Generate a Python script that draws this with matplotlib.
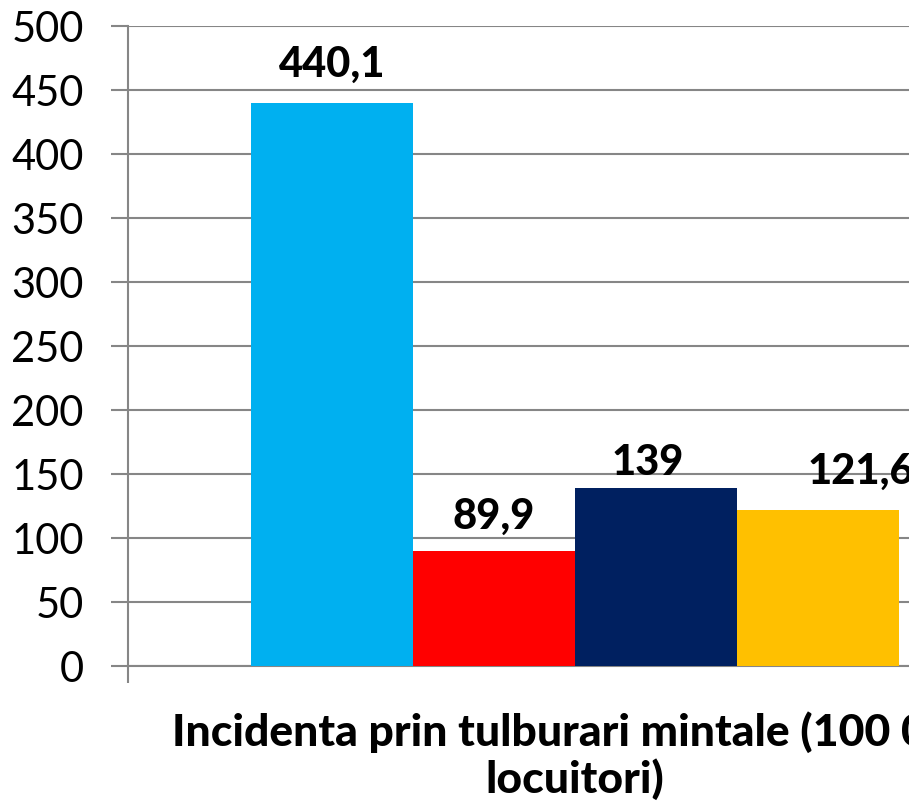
import matplotlib.pyplot as plt

# date
serii = ['Seria 1', 'Seria 2', 'Seria 3', 'Seria 4']
valori = [440.1, 89.9, 139, 121.6]
etichete = ['440,1', '89,9', '139', '121,6']
culori = ['#00B0F0', '#FF0000', '#002060', '#FFC000']
categorie = 'Incidenta prin tulburari mintale (100 000\nlocuitori)'
y_ticks = [0, 50, 100, 150, 200, 250, 300, 350, 400, 450, 500]
# deplasarea etichetelor (pixeli), ca in original
deplasari = [(0, 27), (0, 23), (-8, 14), (43, 28)]

plt.rcParams['font.family'] = ['Lato', 'DejaVu Sans']

fig = plt.figure(figsize=(9.09, 8.12), dpi=100)
# axa continua dincolo de marginea din dreapta (imaginea e taiata)
ax = fig.add_axes([128 / 909, 145 / 812, 894 / 909, 640 / 812])

w = 0.1814
for i, (v, c, e, d) in enumerate(zip(valori, culori, etichete, deplasari)):
    x = (i - 1.5) * w
    ax.bar(x, v, width=w, color=c, zorder=3)
    ax.annotate(e, (x, v), xytext=d, textcoords='offset pixels',
                ha='center', va='baseline', fontsize=30, fontweight='black')

gri = '#868686'
ax.set_xlim(-0.5, 0.5)
ax.set_ylim(0, 500)
ax.set_yticks(y_ticks)
ax.tick_params(axis='y', labelsize=30, length=12, width=1.5, color=gri, pad=20)
ax.grid(axis='y', color=gri, linewidth=1.5, zorder=0)

ax.set_xticks([0])
ax.set_xticklabels([categorie], fontsize=32, fontweight='black', linespacing=1.15)
ax.tick_params(axis='x', length=0, pad=32)
ax.set_xticks([-0.5], minor=True)
ax.tick_params(axis='x', which='minor', length=12, width=1.5, color=gri)

for s in ['top', 'right']:
    ax.spines[s].set_visible(False)
for s in ['left', 'bottom']:
    ax.spines[s].set_color(gri)
    ax.spines[s].set_linewidth(1.5)

fig.savefig('out.png', dpi=100)
